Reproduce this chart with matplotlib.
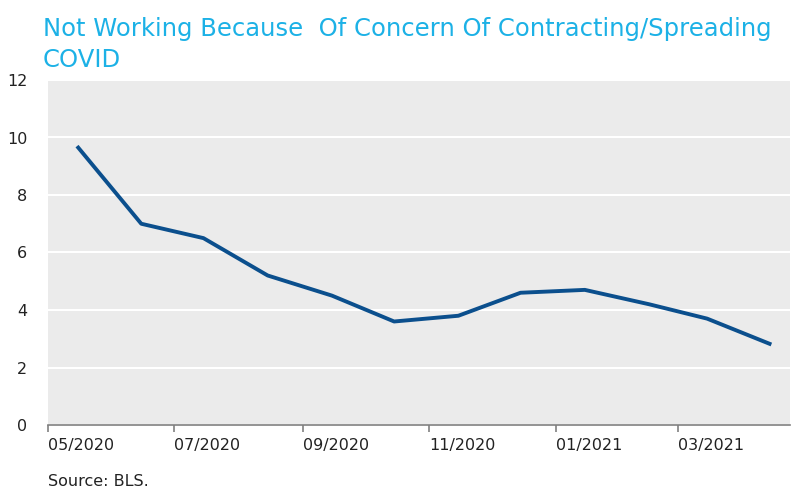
import matplotlib
matplotlib.use("Agg")
import matplotlib.pyplot as plt
import datetime as dt

months = ["2020-05", "2020-06", "2020-07", "2020-08", "2020-09", "2020-10",
          "2020-11", "2020-12", "2021-01", "2021-02", "2021-03", "2021-04"]
values = [9.7, 7.0, 6.5, 5.2, 4.5, 3.6, 3.8, 4.6, 4.7, 4.2, 3.7, 2.8]
tick_months = ["2020-05", "2020-07", "2020-09", "2020-11", "2021-01", "2021-03"]
tick_labels = ["05/2020", "07/2020", "09/2020", "11/2020", "01/2021", "03/2021"]
title_lines = ["Not Working Because  Of Concern Of Contracting/Spreading", "COVID"]
source = "Source: BLS."

plt.rcParams['font.family'] = ['DejaVu Sans']

def mid(m):
    y, mo = map(int, m.split("-"))
    return dt.datetime(y, mo, 15)

def start(m):
    y, mo = map(int, m.split("-"))
    return dt.datetime(y, mo, 1)

x = [mid(m) for m in months]

fig = plt.figure(figsize=(7.93, 4.90), dpi=100)
ax = fig.add_axes([48/793, 65/490, 742/793, 345/490])
ax.set_facecolor("#ebebeb")
ax.plot(x, values, color="#0b4f8d", linewidth=2.8, solid_capstyle="butt", zorder=3)

ax.set_ylim(0, 12)
ax.set_yticks(range(0, 13, 2))
ax.set_xlim(start("2020-05"), dt.datetime(2021, 4, 24))
ax.set_xticks([start(m) for m in tick_months])
ax.set_xticklabels(tick_labels)
ax.grid(axis="y", color="white", linewidth=1.5, zorder=1)
ax.set_axisbelow(True)
for s in ["top", "right", "left"]:
    ax.spines[s].set_visible(False)
ax.spines["bottom"].set_color("#808080")
ax.spines["bottom"].set_linewidth(1.2)
ax.tick_params(axis="x", colors="#808080", length=5, width=1.2, labelcolor="#222222",
               labelsize=11.5, pad=4)
ax.tick_params(axis="y", length=0, labelcolor="#222222", labelsize=11.5, pad=15)
for lbl in ax.get_xticklabels():
    lbl.set_horizontalalignment("left")

fig.text(43/793, 1 - 36/490, title_lines[0], color="#1cb1e6", fontsize=17.5,
         va="baseline", ha="left")
fig.text(43/793, 1 - 67/490, title_lines[1], color="#1cb1e6", fontsize=17.5,
         va="baseline", ha="left")
fig.text(48/793, 1 - 474/490, source, color="#222222", fontsize=11.5, va="top", ha="left")

fig.savefig("out.png", dpi=100)
